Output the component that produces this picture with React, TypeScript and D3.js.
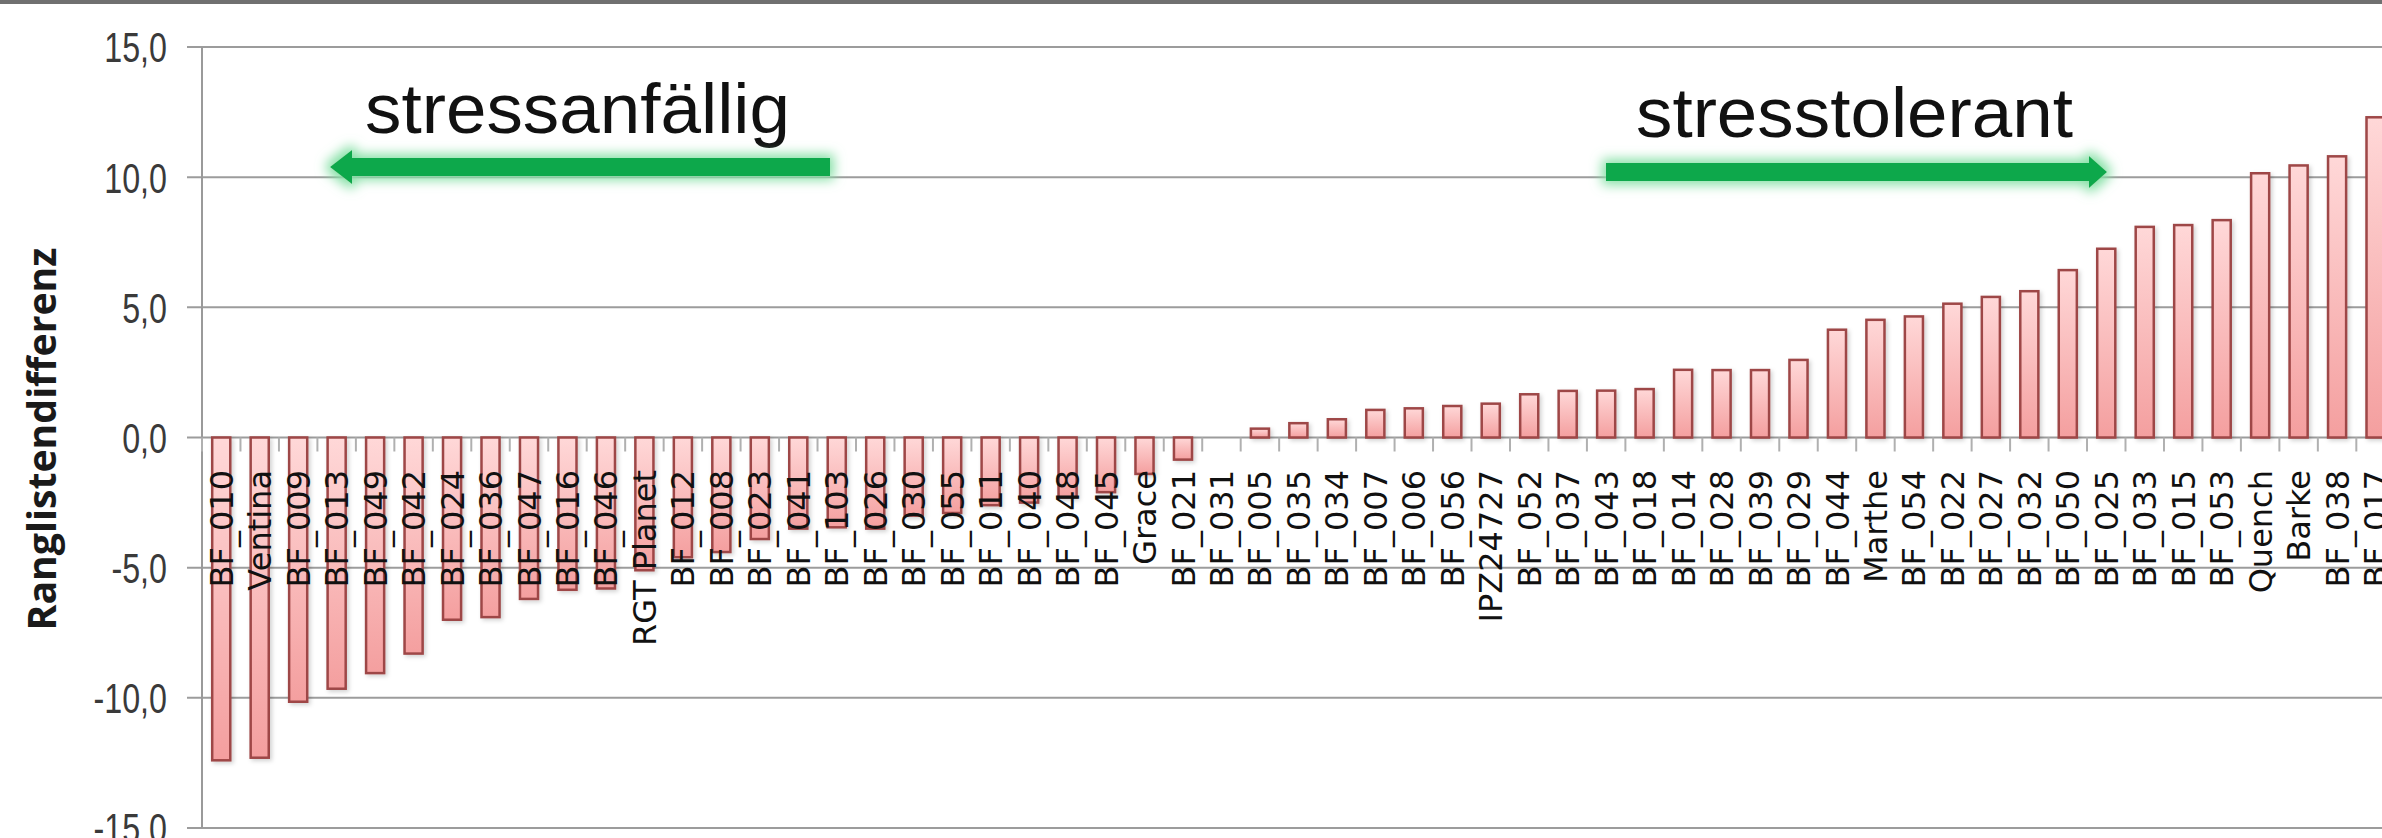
import React from 'react';
import * as d3 from 'd3';

const categories = [
  'BF_010', 'Ventina', 'BF_009', 'BF_013', 'BF_049', 'BF_042', 'BF_024', 'BF_036', 'BF_047', 'BF_016',
  'BF_046', 'RGT Planet', 'BF_012', 'BF_008', 'BF_023', 'BF_041', 'BF_103', 'BF_026', 'BF_030', 'BF_055',
  'BF_011', 'BF_040', 'BF_048', 'BF_045', 'Grace', 'BF_021', 'BF_031', 'BF_005', 'BF_035', 'BF_034',
  'BF_007', 'BF_006', 'BF_056', 'IPZ24727', 'BF_052', 'BF_037', 'BF_043', 'BF_018', 'BF_014', 'BF_028',
  'BF_039', 'BF_029', 'BF_044', 'Marthe', 'BF_054', 'BF_022', 'BF_027', 'BF_032', 'BF_050', 'BF_025',
  'BF_033', 'BF_015', 'BF_053', 'Quench', 'Barke', 'BF_038', 'BF_017',
];

const values = [
  -12.4, -12.3, -10.15, -9.65, -9.05, -8.3, -7.0, -6.9, -6.2, -5.85,
  -5.8, -5.1, -4.6, -4.4, -3.9, -3.5, -3.45, -3.5, -3.0, -2.9,
  -2.6, -2.5, -2.3, -2.1, -1.4, -0.85, 0, 0.34, 0.55, 0.7,
  1.06, 1.12, 1.21, 1.3, 1.66, 1.79, 1.8, 1.86, 2.6, 2.59,
  2.59, 2.98, 4.14, 4.52, 4.65, 5.14, 5.4, 5.62, 6.43, 7.25,
  8.09, 8.16, 8.35, 10.15, 10.45, 10.8, 12.3,
];

const yTicks = [-15, -10, -5, 0, 5, 10, 15];
const axisTitle = 'Ranglistendifferenz';
const leftLabel = 'stressanfällig';
const rightLabel = 'stresstolerant';

const W = 2382;
const H = 838;

const deLocale = d3.formatLocale({
  decimal: ',',
  thousands: '.',
  grouping: [3],
  currency: ['', ' €'],
  minus: '-',
});
const fmt = deLocale.format('.1f');

export default function App() {
  const x0 = 202;
  const step = 38.47;
  const x = d3
    .scaleBand<string>()
    .domain(categories)
    .range([x0, x0 + categories.length * step])
    .paddingInner(0.53)
    .paddingOuter(0.265);
  const y = d3.scaleLinear().domain([-15, 15]).range([828, 47]);

  const bw = x.bandwidth();
  const boundaries = categories.map((c) => (x(c) as number) + bw / 2 - x.step() / 2);
  boundaries.push(boundaries[boundaries.length - 1] + x.step());

  const leftArrow = 'M330,167 L352,150 L352,158 L830,158 L830,176 L352,176 L352,184 Z';
  const rightArrow = 'M1606,163 L2089,163 L2089,156 L2107,172 L2089,188 L2089,181 L1606,181 Z';

  return (
    <svg
      width={W}
      height={H}
      viewBox={`0 0 ${W} ${H}`}
      style={{ position: 'absolute', left: 0, top: 0, display: 'block', background: '#ffffff' }}
    >
      <defs>
        <linearGradient id="barGrad" x1="0" y1="0" x2="0" y2="1">
          <stop offset="0%" stopColor="#ffd8d8" />
          <stop offset="100%" stopColor="#f49f9f" />
        </linearGradient>
        <filter id="barShadow" x="-50%" y="-10%" width="200%" height="120%">
          <feDropShadow dx="2" dy="2" stdDeviation="2" floodColor="#000" floodOpacity="0.18" />
        </filter>
        <filter id="glow" x="-20%" y="-150%" width="140%" height="400%">
          <feMorphology in="SourceAlpha" operator="dilate" radius="4" result="d" />
          <feGaussianBlur in="d" stdDeviation="6" result="b" />
          <feFlood floodColor="#86e0a6" floodOpacity="1" result="c" />
          <feComposite in="c" in2="b" operator="in" result="g" />
          <feMerge>
            <feMergeNode in="g" />
            <feMergeNode in="SourceGraphic" />
          </feMerge>
        </filter>
      </defs>

      <rect x={0} y={0} width={W} height={H} fill="#ffffff" />
      <rect x={0} y={0} width={W} height={4} fill="#707070" />

      {/* gridlines */}
      {yTicks.map((t) => (
        <line
          key={'g' + t}
          x1={187}
          x2={W}
          y1={y(t)}
          y2={y(t)}
          stroke="#9c9c9c"
          strokeWidth={2}
        />
      ))}

      {/* y axis line */}
      <line x1={x0} x2={x0} y1={y(15)} y2={y(-15)} stroke="#9a9a9a" strokeWidth={2} />

      {/* category ticks */}
      {boundaries.map((b, i) => (
        <line key={'t' + i} x1={b} x2={b} y1={y(0)} y2={y(0) + 14} stroke="#b0b0b0" strokeWidth={2} />
      ))}

      {/* y tick labels */}
      {yTicks.map((t) => (
        <text
          key={'l' + t}
          transform={`translate(167, ${y(t)}) scale(0.75, 1)`}
          dy="0.36em"
          textAnchor="end"
          fontFamily="'Liberation Sans', Arial, sans-serif"
          fontSize={43}
          fill="#3a3a3a"
        >
          {fmt(t)}
        </text>
      ))}

      {/* axis title */}
      <text
        transform={`translate(56, 439) rotate(-90)`}
        textAnchor="middle"
        fontFamily="'Open Sans', sans-serif"
        fontWeight="bold"
        fontSize={40}
        textLength={383}
        lengthAdjust="spacingAndGlyphs"
        fill="#1a1a1a"
      >
        {axisTitle}
      </text>

      {/* bars */}
      <g filter="url(#barShadow)">
        {categories.map((c, i) => {
          const v = values[i];
          if (v === 0) return null;
          const top = y(Math.max(0, v));
          const bot = y(Math.min(0, v));
          return (
            <rect
              key={'b' + c}
              x={x(c) as number}
              y={top}
              width={bw}
              height={bot - top}
              fill="url(#barGrad)"
              stroke="#9e4646"
              strokeWidth={2.5}
            />
          );
        })}
      </g>

      {/* category labels */}
      {categories.map((c) => (
        <text
          key={'c' + c}
          transform={`translate(${(x(c) as number) + bw / 2}, 470) rotate(-90)`}
          dy="0.36em"
          textAnchor="end"
          fontFamily="'DejaVu Sans', sans-serif"
          fontSize={32}
          fill="#111111"
        >
          {c}
        </text>
      ))}

      {/* annotations */}
      <text
        x={365}
        y={133}
        fontFamily="'Liberation Sans', Arial, sans-serif"
        fontSize={70}
        textLength={425}
        lengthAdjust="spacingAndGlyphs"
        fill="#111111"
      >
        {leftLabel}
      </text>
      <path d={leftArrow} fill="#0aa84b" filter="url(#glow)" />

      <text
        x={1636}
        y={137}
        fontFamily="'Liberation Sans', Arial, sans-serif"
        fontSize={70}
        textLength={437}
        lengthAdjust="spacingAndGlyphs"
        fill="#111111"
      >
        {rightLabel}
      </text>
      <path d={rightArrow} fill="#0aa84b" filter="url(#glow)" />
    </svg>
  );
}
